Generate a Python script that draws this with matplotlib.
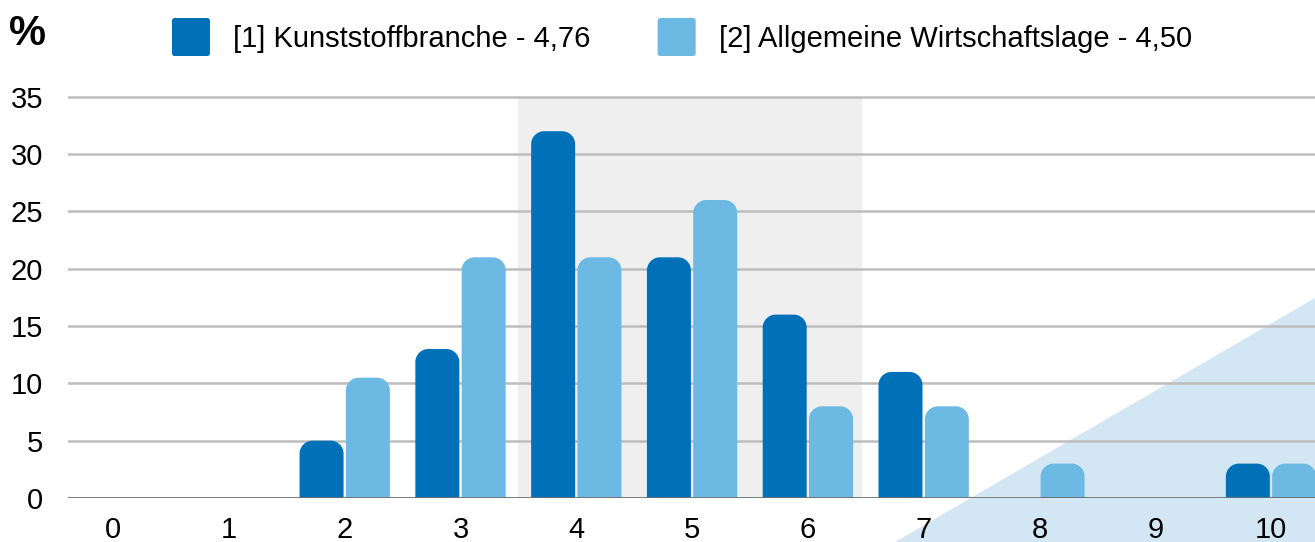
import matplotlib
matplotlib.use("Agg")
import matplotlib.pyplot as plt
from matplotlib.path import Path
from matplotlib.patches import PathPatch, Polygon, FancyBboxPatch
from matplotlib.legend_handler import HandlerPatch

# Daten
kategorien = list(range(11))
kunststoff = [0, 0, 5, 13, 32, 21, 16, 11, 0, 0, 3]
wirtschaft = [0, 0, 10.5, 21, 21, 26, 8, 8, 3, 0, 3]
label1 = "[1] Kunststoffbranche - 4,76"
label2 = "[2] Allgemeine Wirtschaftslage - 4,50"

dunkel = "#0070b8"
hell = "#6cb9e4"

plt.rcParams["font.family"] = ["Liberation Sans", "DejaVu Sans"]

fig = plt.figure(figsize=(13.15, 5.42), dpi=100)
ax = fig.add_axes([68 / 1315, 1 - 498 / 542, 1 - 68 / 1315, (498 - 85.4) / 542])
ax.set_facecolor("none")
ax.set_xlim(-0.39, 10.38)
ax.set_ylim(0, 36)

# Dreieck unten rechts (Figurkoordinaten)
tri = Polygon([(895 / 1315, 0), (1, 0), (1, 1 - 298 / 542)], closed=True,
              transform=fig.transFigure, facecolor="#d3e6f3", edgecolor="none", zorder=-5)
fig.patches.append(tri)

# grauer Bereich
ax.axvspan(3.5, 6.47, ymin=0, ymax=35 / 36, color="#efefef", zorder=0, lw=0)

for y in range(5, 40, 5):
    ax.axhline(y, color="#bdbdbd", lw=1.8, zorder=1)
ax.axhline(0, color="#6e6e6e", lw=2, zorder=4)

rx = 13 / 115.8
ry = 13 / 11.46


def rund_balken(x, w, h, farbe):
    if h <= 0:
        return
    r_y = min(ry, h)
    r_x = rx
    k = 0.5523
    verts = [(x, 0), (x, h - r_y),
             (x, h - r_y + k * r_y), (x + r_x - k * r_x, h), (x + r_x, h),
             (x + w - r_x, h),
             (x + w - r_x + k * r_x, h), (x + w, h - r_y + k * r_y), (x + w, h - r_y),
             (x + w, 0), (x, 0)]
    codes = [Path.MOVETO, Path.LINETO,
             Path.CURVE4, Path.CURVE4, Path.CURVE4,
             Path.LINETO,
             Path.CURVE4, Path.CURVE4, Path.CURVE4,
             Path.LINETO, Path.CLOSEPOLY]
    ax.add_patch(PathPatch(Path(verts, codes), facecolor=farbe, edgecolor="none", zorder=3))


breite = 0.38
for k, a, b in zip(kategorien, kunststoff, wirtschaft):
    rund_balken(k - 0.2 - breite / 2, breite, a, dunkel)
    rund_balken(k + 0.2 - breite / 2, breite, b, hell)

ax.set_xticks(kategorien)
ax.set_xticklabels([str(k) for k in kategorien], fontsize=21)
ax.set_yticks(range(0, 40, 5))
ax.set_yticklabels([str(v) for v in range(0, 40, 5)], fontsize=21)
ax.tick_params(axis="both", length=0)
ax.tick_params(axis="y", pad=18)
ax.tick_params(axis="x", pad=13)
for s in ax.spines.values():
    s.set_visible(False)

fig.text(9 / 1315, 1 - 34 / 542, "%", fontsize=30, fontweight="bold", va="center", ha="left")


class QuadratHandler(HandlerPatch):
    def create_artists(self, legend, orig_handle, xdescent, ydescent, width, height, fontsize, trans):
        s = 38 * 72 / 100
        p = FancyBboxPatch((-xdescent, -ydescent + height / 2 - s / 2), s, s,
                           boxstyle="round,pad=0,rounding_size=2",
                           facecolor=orig_handle.get_facecolor(), edgecolor="none", transform=trans)
        return [p]


from matplotlib.patches import Patch
handles = [Patch(facecolor=dunkel, label=label1), Patch(facecolor=hell, label=label2)]
leg = fig.legend(handles=handles, loc="center", bbox_to_anchor=(682 / 1315, 1 - 37 / 542),
                 ncol=2, frameon=False, fontsize=21, handlelength=1.3, handleheight=1.3,
                 handletextpad=0.8, columnspacing=2.3,
                 handler_map={Patch: QuadratHandler()})

fig.savefig("out.png", dpi=100)
